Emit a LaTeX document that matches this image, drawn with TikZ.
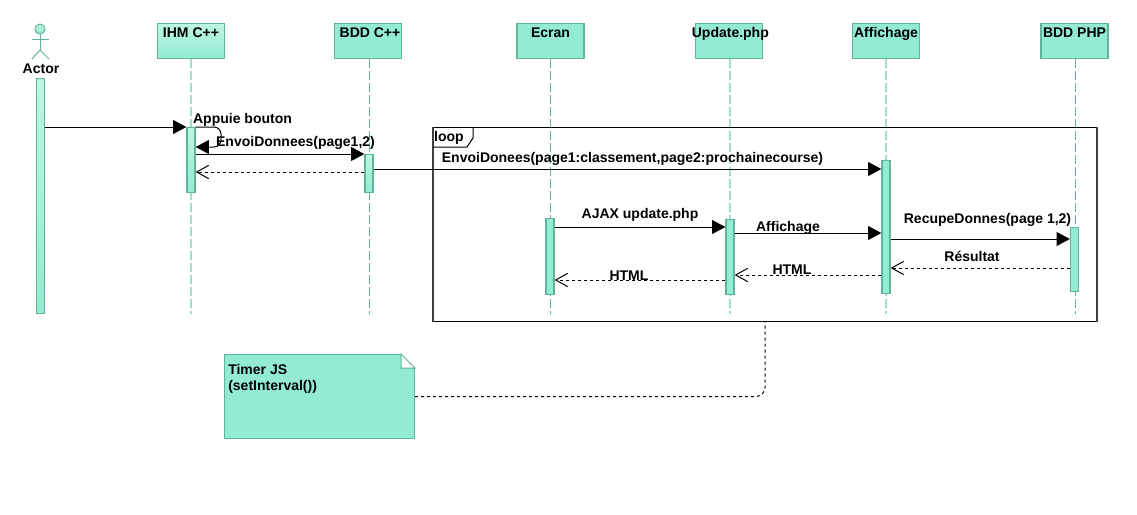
\documentclass[tikz,border=0pt]{standalone}
\usepackage{fontspec}
\setmainfont{Liberation Sans}
\usetikzlibrary{arrows.meta,calc}
\definecolor{seqfill}{HTML}{92EBD2}
\definecolor{seqlight}{HTML}{BDF6E4}
\definecolor{seqline}{HTML}{5FB49A}
\definecolor{seqpale}{HTML}{A6DCCB}
\def\px{0.75pt}
\tikzset{
	seqtext/.style={font=\fontsize{10.5pt}{12pt}\selectfont\bfseries, inner sep=0pt},
	seqhead/.style={seqtext, draw=seqline, fill=seqfill, line width=1.4*\px, inner sep=0pt, minimum width=67*\px, text height=14*\px, text depth=21*\px, anchor=north},
	seqbar/.style={draw=seqline, fill=seqfill, line width=1.3*\px, inner sep=0pt, minimum width=8*\px, anchor=north},
	seqfade/.style={top color=seqlight, bottom color=seqfill},
	lifeline/.style={draw=seqline, line width=1*\px, dash pattern=on 9*\px off 3*\px},
	lifepale/.style={draw=seqpale, line width=1.6*\px, dash pattern=on 9*\px off 3*\px},
	callmsg/.style={line width=1*\px, -{Triangle[length=10pt, width=10.5pt]}},
	backmsg/.style={line width=1*\px, dash pattern=on 3*\px off 3*\px, -{Straight Barb[length=9pt, width=10pt]}},
	actorpart/.style={draw=seqline, line width=1*\px}
}

\begin{document}
\begin{tikzpicture}[x=0.75pt, y=-0.75pt]
	%%%%% START %%%%%
	\useasboundingbox (0, 0) rectangle (1137, 514);
	
	\draw[actorpart, seqfade] (40, 29) circle (5);
	\draw[actorpart] (40, 34) -- (40, 50);
	\draw[actorpart] (32, 39) -- (49, 39);
	\draw[actorpart] (32, 59) -- (40, 50) -- (49, 59);
	\node[seqtext] (actorname) at (41, 69) {Actor};
	
	\node[seqhead, seqfade] (ihm) at (191, 23) {IHM C++};
	\node[seqhead] (bddcpp) at (368, 23) {\hspace*{3pt}BDD C++};
	\node[seqhead] (ecran) at (550.5, 23) {Ecran};
	\node[seqhead] (update) at (729, 23) {\makebox[0pt]{\hspace*{2pt}Update.php}};
	\node[seqhead] (affichage) at (886, 23) {Affichage};
	\node[seqhead] (bddphp) at (1074.5, 23) {BDD PHP};
	
	\coordinate (ihmend) at (191, 314);
	\coordinate (bddcppend) at (369, 314);
	\coordinate (ecranend) at (550, 314);
	\coordinate (updateend) at (730, 314);
	\coordinate (affichageend) at (886, 314);
	\coordinate (bddphpend) at (1075, 314);
	\draw[lifepale] (ihm.south) -- (ihmend);
	\draw[lifeline] (bddcpp.south -| bddcppend) -- (bddcppend);
	\draw[lifeline] (ecran.south -| ecranend) -- (ecranend);
	\draw[lifepale] (update.south -| updateend) -- (updateend);
	\draw[lifepale] (affichage.south) -- (affichageend);
	\draw[lifeline] (bddphp.south -| bddphpend) -- (bddphpend);
	
	\node[draw, line width=1*\px, inner sep=0pt, minimum width=663*\px, minimum height=194*\px, anchor=north west] (loopframe) at (433, 127) {};
	\draw[line width=1.6*\px, black!75] (loopframe.north west) -- (loopframe.south west);
	\draw[line width=1.6*\px, black!75] (loopframe.north east) -- (loopframe.south east);
	\draw[line width=1*\px] (473, 127) -- (473, 138) -- (467, 147) -- (433, 147);
	\node[seqtext] (looptext) at (449, 137.5) {loop};
	
	\node[seqbar, seqfade, minimum height=235*\px] (actorbar) at (40.5, 78) {};
	\node[seqbar, seqfade, minimum height=65*\px] (ihmbar) at (191, 127) {};
	\node[seqbar, seqfade, minimum height=38*\px] (bddcppbar) at (369, 154) {};
	\node[seqbar, minimum height=76*\px] (ecranbar) at (550, 218) {};
	\node[seqbar, minimum height=75*\px] (updatebar) at (730, 219) {};
	\node[seqbar, minimum height=133*\px] (affichagebar) at (886, 160) {};
	\node[seqbar, minimum height=64*\px] (bddphpbar) at (1074.5, 227) {};
	
	\draw[callmsg] (actorbar.east |- 0, 127) -- (ihmbar.west |- 0, 127);
	\draw[callmsg, rounded corners=7*\px] (ihmbar.east |- 0, 127) -| (221, 147) -- (ihmbar.east |- 0, 147);
	\draw[callmsg] (ihmbar.east |- 0, 154) -- (bddcppbar.west |- 0, 154);
	\draw[backmsg] (bddcppbar.west |- 0, 172) -- (ihmbar.east |- 0, 172);
	\draw[callmsg] (bddcppbar.east |- 0, 169) -- (affichagebar.west |- 0, 169);
	\draw[callmsg] (ecranbar.east |- 0, 227) -- (updatebar.west |- 0, 227);
	\draw[callmsg] (updatebar.east |- 0, 233) -- (affichagebar.west |- 0, 233);
	\draw[callmsg] (affichagebar.east |- 0, 239) -- (bddphpbar.west |- 0, 239);
	\draw[backmsg] (bddphpbar.west |- 0, 268) -- (affichagebar.east |- 0, 268);
	\draw[backmsg] (affichagebar.west |- 0, 275) -- (updatebar.east |- 0, 275);
	\draw[backmsg] (updatebar.west |- 0, 280) -- (ecranbar.east |- 0, 280);
	
	\node[seqtext] (appuie) at (242.5, 119.5) {Appuie bouton};
	\node[seqtext] (envoipage) at (295.5, 142.5) {EnvoiDonnees(page1,2)};
	\node[seqtext] (envoiclass) at (632.5, 158.5) {EnvoiDonees(page1:classement,page2:prochainecourse)};
	\node[seqtext] (ajax) at (640, 214.5) {AJAX update.php};
	\node[seqtext] (affichemsg) at (788, 227.5) {Affichage};
	\node[seqtext] (recupe) at (987.5, 219.5) {RecupeDonnes(page 1,2)};
	\node[seqtext] (resultat) at (972, 256.5) {Résultat};
	\node[seqtext] (htmlecran) at (629, 275.5) {HTML};
	\node[seqtext] (htmlupdate) at (792, 269.5) {HTML};
	
	\node[draw=seqline, fill=seqfill, line width=1*\px, inner sep=0pt, minimum width=190*\px, minimum height=84*\px, anchor=north west] (timernote) at (224, 354) {};
	\fill[white] ($(timernote.north east)+(-14, -1)$) rectangle ($(timernote.north east)+(1, 14)$);
	\draw[seqline, line width=1*\px] ($(timernote.north east)+(-14, 0)$) -- ($(timernote.north east)+(0, 14)$) -- ($(timernote.north east)+(-14, 14)$) -- cycle;
	\node[seqtext, anchor=north west, align=left] (timertext) at (228, 364.5) {Timer JS\\(setInterval())};
	\draw[line width=1*\px, dash pattern=on 3*\px off 3*\px, rounded corners=9*\px] (timernote.east) -| (loopframe.south);
	
	%%%%% END %%%%%
\end{tikzpicture}
\end{document}
